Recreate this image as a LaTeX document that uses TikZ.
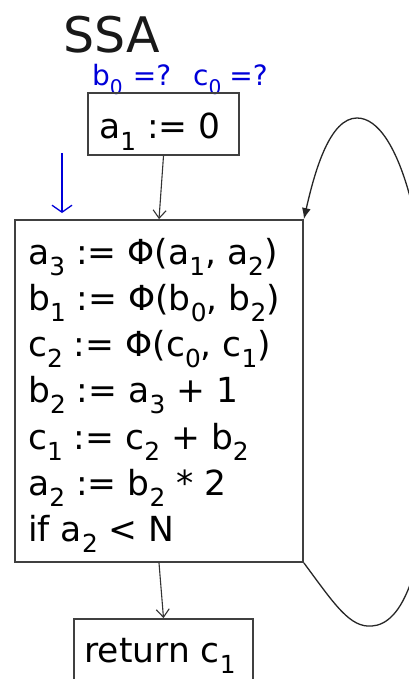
\documentclass[tikz,border=0pt]{standalone}
\usepackage{fontspec}
\usepackage{graphicx}
\setmainfont{DejaVu Sans}
\usetikzlibrary{arrows.meta}
\newcommand{\sbx}[1]{\raisebox{-0.32em}{\scalebox{0.72}{#1}}}
\begin{document}
\begin{tikzpicture}[x=1pt,y=-1pt,
  box/.style={draw=black!75, line width=1.8pt, inner sep=0pt},
  codefont/.style={font=\fontsize{34.5}{40}\selectfont},
  codeline/.style={codefont, anchor=base west, inner sep=0pt},
  flow/.style={-{Straight Barb[length=8pt,width=13pt]}, line width=1.1pt, draw=black!80},
  hand/.style={draw=blue!85!black, line width=1.3pt, -{Straight Barb[length=7pt,width=20pt]}}]
\useasboundingbox (0,0) rectangle (409,679);
\fill[white] (0,0) rectangle (409,679);
\begin{scope}
\clip (0,0) rectangle (409,679);
\node[anchor=base west, inner sep=0pt, font=\fontsize{49}{55}\selectfont, text=black!90] (title) at (63,53) {SSA};
\node[anchor=base west, inner sep=0pt, font=\fontsize{28}{30}\selectfont, text=blue!85!black] (note) at (92,86) {b\sbx{0}\hspace{10pt}=?\hspace{22pt}c\sbx{0}\hspace{8pt}=?};
\node[box, minimum width=151pt, minimum height=62pt] (init) at (163.5,124) {};
\node[codefont, anchor=base, inner sep=0pt] (initt) at (160,139) {a\sbx{1} := 0};
\node[box, minimum width=288pt, minimum height=342pt] (main) at (159,391) {};
\node[codeline] (l1) at (28,264) {a\sbx{3} := Φ(a\sbx{1}, a\sbx{2})};
\node[codeline] (l2) at (28,310.3) {b\sbx{1} := Φ(b\sbx{0}, b\sbx{2})};
\node[codeline] (l3) at (28,356.6) {c\sbx{2} := Φ(c\sbx{0}, c\sbx{1})};
\node[codeline] (l4) at (28,402.9) {b\sbx{2} := a\sbx{3} + 1};
\node[codeline] (l5) at (28,449.2) {c\sbx{1} := c\sbx{2} + b\sbx{2}};
\node[codeline] (l6) at (28,495.5) {a\sbx{2} := b\sbx{2} * 2};
\node[codeline] (l7) at (28,541.8) {if a\sbx{2} < N};
\node[box, minimum width=179pt, minimum height=84pt] (ret) at (163.5,661) {};
\node[codefont, anchor=base, inner sep=0pt] (rett) at (160,662) {return c\sbx{1}};
\draw[flow] (init.south) -- (main.north);
\draw[flow] (main.south) -- (ret.north);
\draw[line width=1.3pt, draw=black!85, -{Latex[length=11pt,width=9pt]}]
  (main.south east) .. controls (335,605) and (350,628) .. (372,626)
  .. controls (400,624) and (430,580) .. (432,400)
  .. controls (432,240) and (400,118) .. (357,118)
  .. controls (330,118) and (315,170) .. (main.north east);
\coordinate (bt) at (62,153);
\coordinate (bb) at (62,213);
\draw[hand] (bt) -- (bb);
\end{scope}
\end{tikzpicture}
\end{document}
